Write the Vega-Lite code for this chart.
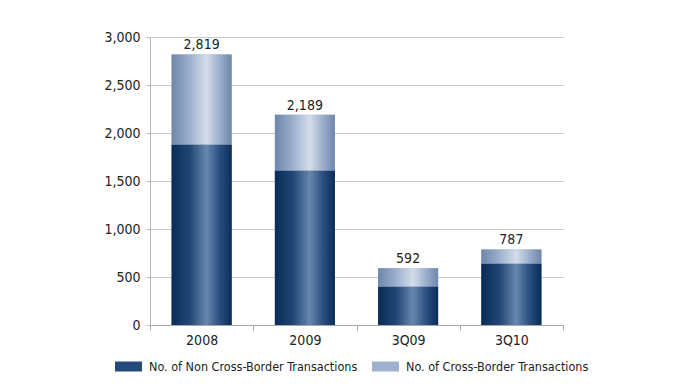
{
  "$schema": "https://vega.github.io/schema/vega-lite/v6.json",
  "width": 413,
  "height": 288,
  "autosize": "none",
  "padding": {"left": 150, "top": 37, "right": 110, "bottom": 61},
  "background": "white",
  "config": {
    "view": {"stroke": null},
    "font": "DejaVu Sans Condensed",
    "text": {"font": "DejaVu Sans Condensed"}
  },
  "data": {
    "values": [
      {"period": "2008", "type": "No. of Non Cross-Border Transactions", "value": 1880},
      {"period": "2008", "type": "No. of Cross-Border Transactions", "value": 939},
      {"period": "2009", "type": "No. of Non Cross-Border Transactions", "value": 1610},
      {"period": "2009", "type": "No. of Cross-Border Transactions", "value": 579},
      {"period": "3Q09", "type": "No. of Non Cross-Border Transactions", "value": 400},
      {"period": "3Q09", "type": "No. of Cross-Border Transactions", "value": 192},
      {"period": "3Q10", "type": "No. of Non Cross-Border Transactions", "value": 640},
      {"period": "3Q10", "type": "No. of Cross-Border Transactions", "value": 147}
    ]
  },
  "layer": [
    {
      "mark": {"type": "bar", "width": 60},
      "encoding": {
        "x": {
          "field": "period",
          "type": "nominal",
          "sort": ["2008", "2009", "3Q09", "3Q10"],
          "scale": {"paddingInner": 0, "paddingOuter": 0},
          "axis": {
            "title": null,
            "labelAngle": 0,
            "labelFontSize": 14,
            "labelColor": "#222222",
            "labelPadding": 3,
            "tickBand": "extent",
            "tickSize": 5,
            "tickColor": "#a8a8a8",
            "domainColor": "#a8a8a8",
            "grid": false
          }
        },
        "y": {
          "field": "value",
          "type": "quantitative",
          "stack": "zero",
          "scale": {"domain": [0, 3000], "nice": false},
          "axis": {
            "title": null,
            "values": [0, 500, 1000, 1500, 2000, 2500, 3000],
            "format": ",.0f",
            "labelFontSize": 14,
            "labelColor": "#222222",
            "labelPadding": 6,
            "tickSize": 4,
            "tickColor": "#b8b8b8",
            "domainColor": "#b8b8b8",
            "gridColor": "#c8c8c8",
            "gridWidth": 1.2
          }
        },
        "color": {
          "field": "type",
          "type": "nominal",
          "sort": ["No. of Non Cross-Border Transactions", "No. of Cross-Border Transactions"],
          "scale": {
            "domain": ["No. of Non Cross-Border Transactions", "No. of Cross-Border Transactions"],
            "range": ["#234a7b", "#9fb2cd"]
          },
          "legend": {
            "title": null,
            "orient": "none",
            "direction": "horizontal",
            "legendX": -35,
            "legendY": 316,
            "symbolType": "M-1,-0.37L1,-0.37L1,0.37L-1,0.37Z",
            "symbolSize": 729,
            "symbolStrokeWidth": 0,
            "symbolOpacity": 1,
            "labelFontSize": 12.5,
            "labelColor": "#222222",
            "labelOffset": 7,
            "columnPadding": 14,
            "labelLimit": 400
          }
        }
      }
    },
    {
      "mark": {"type": "bar", "width": 60},
      "encoding": {
        "x": {"field": "period", "type": "nominal", "sort": ["2008", "2009", "3Q09", "3Q10"]},
        "y": {"field": "value", "type": "quantitative", "stack": "zero"},
        "order": {"field": "type", "sort": "descending"},
        "fill": {
          "condition": {
            "test": "datum.type === 'No. of Cross-Border Transactions'",
            "value": {"gradient": "linear", "x1": 0, "y1": 0, "x2": 1, "y2": 0, "stops": [
              {"offset": 0, "color": "#6e86ab"},
              {"offset": 0.3, "color": "#9cb0cc"},
              {"offset": 0.58, "color": "#d4dde9"},
              {"offset": 0.8, "color": "#9aaecb"},
              {"offset": 1, "color": "#6e86ab"}
            ]}
          },
          "value": {"gradient": "linear", "x1": 0, "y1": 0, "x2": 1, "y2": 0, "stops": [
            {"offset": 0, "color": "#0a2d57"},
            {"offset": 0.3, "color": "#204675"},
            {"offset": 0.58, "color": "#6887ad"},
            {"offset": 0.8, "color": "#2a5081"},
            {"offset": 1, "color": "#0a2d57"}
          ]}
        }
      }
    },
    {
      "transform": [
        {"aggregate": [{"op": "sum", "field": "value", "as": "total"}], "groupby": ["period"]}
      ],
      "mark": {"type": "text", "baseline": "bottom", "dy": -2, "fontSize": 14, "color": "#222222"},
      "encoding": {
        "x": {"field": "period", "type": "nominal", "sort": ["2008", "2009", "3Q09", "3Q10"]},
        "y": {"field": "total", "type": "quantitative"},
        "text": {"field": "total", "type": "quantitative", "format": ",.0f"}
      }
    }
  ]
}
